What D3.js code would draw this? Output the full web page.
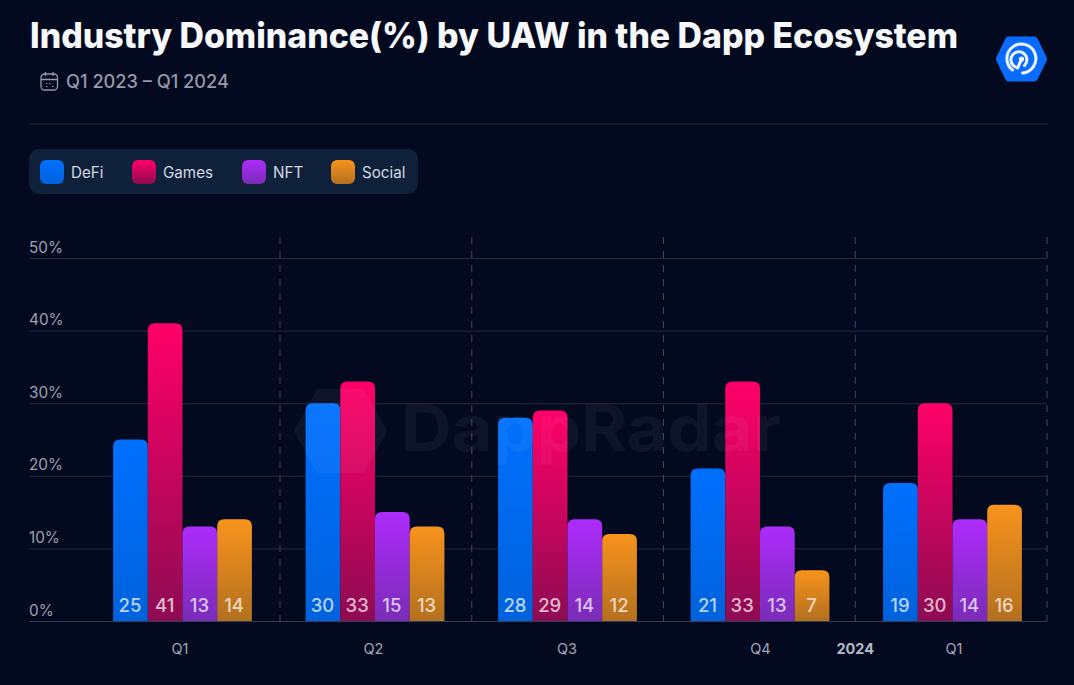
<!DOCTYPE html>
<html>
<head>
<meta charset="utf-8">
<title>Industry Dominance by UAW</title>
<script src="https://cdn.jsdelivr.net/npm/d3@7/dist/d3.min.js"></script>
<style>
  html, body { margin: 0; padding: 0; background: #030a20; }
  svg { display: block; }
  text { font-family: Inter, "Noto Sans", sans-serif; }
</style>
</head>
<body>
<svg id="chart" width="1074" height="685"></svg>
<script>
// Chart data
const quarterKeys = ["2023-Q1", "2023-Q2", "2023-Q3", "2023-Q4", "2024-Q1"];
const quarterLabels = ["Q1", "Q2", "Q3", "Q4", "Q1"];
const seriesNames = ["DeFi", "Games", "NFT", "Social"];
const defiValues = [25, 30, 28, 21, 19];
const gamesValues = [41, 33, 29, 33, 30];
const nftValues = [13, 15, 14, 13, 14];
const socialValues = [14, 13, 12, 7, 16];
const yTicks = [0, 10, 20, 30, 40, 50];
const seriesValues = [defiValues, gamesValues, nftValues, socialValues];

// Top and bottom gradient stops per series
const seriesTop = ["#0070ff", "#ff0068", "#ad2bfb", "#f8931d"];
const seriesBottom = ["#0062dc", "#8e0b52", "#7a2cb8", "#b3701f"];

const svg = d3.select("#chart");
svg.append("rect").attr("width", 1074).attr("height", 685).attr("fill", "#030a20");

const defs = svg.append("defs");
seriesNames.forEach((name, i) => {
  const g = defs.append("linearGradient")
    .attr("id", "grad-" + name).attr("x1", 0).attr("x2", 0).attr("y1", 0).attr("y2", 1);
  g.append("stop").attr("offset", "0%").attr("stop-color", seriesTop[i]);
  g.append("stop").attr("offset", "100%").attr("stop-color", seriesBottom[i]);
});

// Scales
const y = d3.scaleLinear().domain([0, 50]).range([621, 258]);
const xBand = d3.scaleBand().domain(quarterKeys).range([86.25, 1048.75]);
const xLabel = d3.scaleBand().domain(quarterKeys).range([83.25, 1050.75]);
const xDivider = d3.scaleLinear().domain([0, 4]).range([280, 1047]);
const barWidth = 34.7;
const xInner = d3.scaleBand().domain(seriesNames)
  .range([-barWidth * 2, barWidth * 2]);

// Header
svg.append("text").attr("x", 30).attr("y", 48)
  .attr("font-size", 35).attr("font-weight", 800).attr("fill", "#f7f8fb")
  .attr("textLength", 928).attr("lengthAdjust", "spacingAndGlyphs")
  .text("Industry Dominance(%) by UAW in the Dapp Ecosystem");

svg.append("text").attr("x", 66).attr("y", 88)
  .attr("font-size", 18.2).attr("font-weight", 500).attr("fill", "#929aab")
  .text("Q1 2023 – Q1 2024");

// Calendar icon
const cal = svg.append("g").attr("fill", "none").attr("stroke", "#929aab").attr("stroke-width", 1.3);
cal.append("rect").attr("x", 41).attr("y", 74).attr("width", 16.5).attr("height", 16).attr("rx", 3.5);
cal.append("path").attr("d", "M41 79.5H57.5M45.5 72V76M53 72V76");
cal.append("path").attr("d", "M46 83.5h1.4M49 83.5h1.4M46 86.5h1.4M52 86.5h1.4").attr("stroke-width", 1.2);

// Logo
const logo = svg.append("g").attr("transform", "translate(1021.5,59)");
logo.append("path")
  .attr("d", "M-13,-22.5 L13,-22.5 Q15,-22.5 16,-20.5 L25,-2 Q26,0 25,2 L16,20.5 Q15,22.5 13,22.5 L-13,22.5 Q-15,22.5 -16,20.5 L-25,2 Q-26,0 -25,-2 L-16,-20.5 Q-15,-22.5 -13,-22.5 Z")
  .attr("fill", "#0a6cff");
const logoArcs = logo.append("g").attr("fill", "none").attr("stroke", "#eef4ff").attr("stroke-linecap", "round").attr("stroke-width", 3);
logoArcs.append("path").attr("d", "M-9,11 A14.5,14.5 0 1 1 1,14");
logoArcs.append("path").attr("d", "M-6,8 A8,8 0 1 1 3,6.5");
logoArcs.append("path").attr("d", "M-4,9 L-0.5,1.5");
logo.append("circle").attr("r", 2.6).attr("fill", "#eef4ff");

svg.append("line").attr("x1", 30).attr("x2", 1048).attr("y1", 124).attr("y2", 124)
  .attr("stroke", "#1b2a45").attr("stroke-width", 1);

// Legend
const legendX = [40, 132, 242, 331];
svg.append("rect").attr("x", 29).attr("y", 149).attr("width", 389).attr("height", 45)
  .attr("rx", 10).attr("fill", "#0f203b");
const legendItems = svg.selectAll("g.legend").data(seriesNames).join("g")
  .attr("class", "legend")
  .attr("transform", (d, i) => `translate(${legendX[i]},160)`);
legendItems.append("rect").attr("width", 24).attr("height", 24).attr("rx", 6)
  .attr("fill", d => `url(#grad-${d})`);
legendItems.append("text").attr("x", 31).attr("y", 17.5)
  .attr("font-size", 15.2).attr("fill", "#d5d9e1").text(d => d);

// Horizontal grid and percentage labels
const yAxis = d3.axisRight(y).tickValues(yTicks).tickSize(1018).tickFormat(d => d + "%");
const yG = svg.append("g").attr("transform", "translate(29,0)").call(yAxis);
yG.select(".domain").remove();
yG.selectAll("line").attr("stroke", d => d === 0 ? "#323f58" : "#1d2c48").attr("stroke-width", 1);
yG.selectAll("text").attr("x", 0).attr("dy", "-6").attr("text-anchor", "start")
  .attr("font-size", 15.3).attr("font-family", "Inter, sans-serif").attr("fill", "#9ba2b2");

// Dashed dividers between quarters
svg.selectAll("line.divider").data(d3.range(5)).join("line")
  .attr("class", "divider")
  .attr("x1", d => xDivider(d)).attr("x2", d => xDivider(d))
  .attr("y1", 237).attr("y2", 621)
  .attr("stroke", "#3b4860").attr("stroke-width", 1).attr("stroke-dasharray", "7 7");

// Rounded-top bars with value labels
function barPath(x, top, w, bottom) {
  const r = Math.min(7, bottom - top);
  return `M${x},${bottom}V${top + r}Q${x},${top} ${x + r},${top}H${x + w - r}Q${x + w},${top} ${x + w},${top + r}V${bottom}Z`;
}
const groups = svg.selectAll("g.quarter").data(quarterKeys).join("g")
  .attr("class", "quarter")
  .attr("transform", d => `translate(${xBand(d) + xBand.bandwidth() / 2},0)`);
const cells = groups.selectAll("g.cell")
  .data((d, qi) => seriesNames.map((name, si) => ({ name, value: seriesValues[si][qi] })))
  .join("g").attr("class", "cell");
cells.append("path")
  .attr("d", d => barPath(xInner(d.name), y(d.value), xInner.bandwidth(), y(0)))
  .attr("fill", d => `url(#grad-${d.name})`);
cells.append("text")
  .attr("x", d => xInner(d.name) + xInner.bandwidth() / 2 - 0.5)
  .attr("y", 612).attr("text-anchor", "middle")
  .attr("font-size", 18.5).attr("font-weight", 500)
  .attr("fill", "#ffffff").attr("fill-opacity", 0.72)
  .text(d => d.value);

// Quarter labels along the bottom
const xAxis = d3.axisBottom(xLabel).tickSize(0).tickFormat((d, i) => quarterLabels[i]);
const xG = svg.append("g").attr("transform", "translate(0,621)").call(xAxis);
xG.select(".domain").remove();
xG.selectAll("text").attr("y", 28).attr("dy", "0.32em")
  .attr("font-size", 14.5).attr("font-family", "Inter, sans-serif").attr("fill", "#a0a7b6");

svg.append("text").attr("x", xDivider(3)).attr("y", 654).attr("text-anchor", "middle")
  .attr("font-size", 14.5).attr("font-weight", 700).attr("fill", "#b3b9c6").text("2024");

// Brand watermark sits above the marks at low opacity
const mark = svg.append("g").attr("opacity", 0.045);
mark.append("path")
  .attr("d", "M319,392 L362,392 L384,431 L362,470 L319,470 L297,431 Z")
  .attr("fill", "#ffffff").attr("stroke", "#ffffff").attr("stroke-width", 6).attr("stroke-linejoin", "round");
mark.append("g").attr("fill", "none").attr("stroke", "#ffffff").attr("stroke-width", 6)
  .selectAll("circle").data([10, 20, 30]).join("circle")
  .attr("cx", 341).attr("cy", 431).attr("r", d => d);
mark.append("text").attr("x", 401).attr("y", 451)
  .attr("font-size", 64).attr("font-weight", 700).attr("fill", "#ffffff")
  .attr("textLength", 380).attr("lengthAdjust", "spacingAndGlyphs").text("DappRadar");
</script>
</body>
</html>
